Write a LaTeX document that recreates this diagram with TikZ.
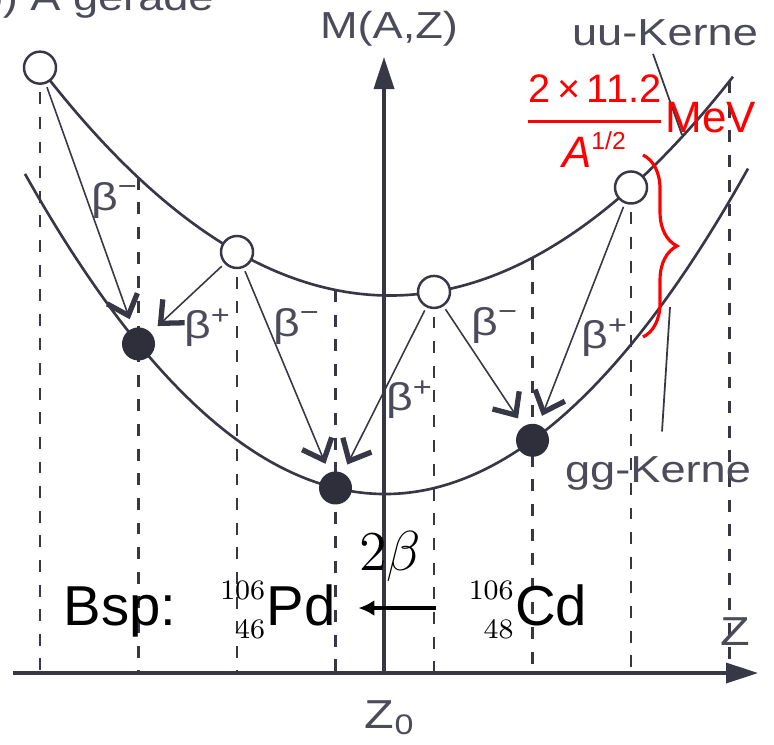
\documentclass[tikz,border=0pt]{standalone}
\usepackage{fix-cm}
\usepackage[no-math]{fontspec}
\setmainfont{Liberation Sans}
\newfontfamily\scanfont[FakeStretch=1.2]{Liberation Sans}
\usepackage{mathtools}
\usetikzlibrary{arrows.meta,calc,decorations.pathreplacing}
\definecolor{ink}{RGB}{55,55,70}
\definecolor{inkgray}{RGB}{75,75,90}
\definecolor{markred}{RGB}{255,0,0}
\newcommand{\nuclide}[3]{$\prescript{\scriptscriptstyle #1}{\scriptscriptstyle #2}{\vphantom{\text{#3}}}$#3}

\begin{document}
\begin{tikzpicture}[x=0.01cm, y=-0.01cm,
  declare function={uuy(\t)=295.5-18.6*((\t-390)/100)^2; ggy(\t)=494-24.7*((\t-385)/100)^2;},
  curve/.style={ink, line width=0.75pt},
  zline/.style={ink, line width=0.7pt, dash pattern=on 3.4pt off 3.6pt},
  axis/.style={ink, line width=1pt, -{Triangle[length=3.2mm,width=2mm]}},
  uunuc/.style={circle, draw=ink, line width=0.7pt, fill=white, minimum size=3.2mm, inner sep=0pt},
  ggnuc/.style={circle, fill=ink!85!black, minimum size=3.3mm, inner sep=0pt},
  decay/.style={ink, line width=0.45pt, shorten <=1pt, shorten >=0.9mm, -{Straight Barb[length=1.8mm,width=3.2mm,line width=1.5pt]}},
  lbl/.style={text=inkgray, inner sep=0pt, font=\scanfont\fontsize{10.7}{13}\selectfont},
  beta/.style={lbl, font=\scanfont\fontsize{11}{13}\selectfont},
  leader/.style={ink, line width=0.5pt},
  bsp/.style={inner sep=0pt, anchor=base, font=\fontsize{16}{19}\selectfont},
  pairarrow/.style={line width=1.1pt, -{Latex[length=1.6mm,width=1.6mm]}}
]
  \useasboundingbox (0,0) rectangle (774,744);

  % dashed Z lines and the two mass parabolas
  \foreach \i in {0,...,7} {
    \pgfmathsetmacro\zx{40+98.5*\i}
    \draw[zline] (\zx,{uuy(\zx)}) -- (\zx,673);
  }
  \draw[curve] plot[domain=40:733, samples=60, smooth] (\x,{uuy(\x)});
  \draw[curve] plot[domain=25:748, samples=60, smooth] (\x,{ggy(\x)});

  % axes
  \coordinate (origin) at (384,673);
  \coordinate (zstart) at (13,673);
  \coordinate (zend) at (758,673);
  \coordinate (mtop) at (384,57);
  \draw[axis] (zstart) -- (zend);
  \draw[axis] (origin) -- (mtop);

  \node[lbl, anchor=base west] (title) at (-23,10) {b) A gerade};
  \node[lbl] (mlabel) at (389,29) {M(A,Z)};
  \node[lbl, font=\scanfont\fontsize{11.5}{13}\selectfont] (zlabel) at (735,632) {Z};
  \node[lbl, font=\scanfont\fontsize{11.5}{13}\selectfont] (zzero) at (390,718) {Z\textsubscript{0}};

  % uu nuclei (open) and gg nuclei (filled)
  \foreach \i in {0,2,4,6} {
    \pgfmathsetmacro\zx{40+98.5*\i}
    \node[uunuc] (u\i) at (\zx,{uuy(\zx)}) {};
  }
  \foreach \i in {1,3,5} {
    \pgfmathsetmacro\zx{40+98.5*\i}
    \node[ggnuc] (g\i) at (\zx,{ggy(\zx)}) {};
  }

  % beta decays
  \draw[decay] (u0) -- (g1);
  \draw[decay] (u2) -- (g1);
  \draw[decay] (u2) -- (g3);
  \draw[decay] (u4) -- (g3);
  \draw[decay] (u4) -- (g5);
  \draw[decay] (u6) -- (g5);
  \node[beta] (bm1) at (115,200) {β\textsuperscript{−}};
  \node[beta] (bp1) at (208,328) {β\textsuperscript{+}};
  \node[beta] (bm2) at (297,326) {β\textsuperscript{−}};
  \node[beta] (bp2) at (410,400) {β\textsuperscript{+}};
  \node[beta] (bm3) at (495,325) {β\textsuperscript{−}};
  \node[beta] (bp3) at (605,338) {β\textsuperscript{+}};

  % curve labels
  \node[lbl] (uulabel) at (665,33) {uu-Kerne};
  \node[lbl] (gglabel) at (658,473) {gg-Kerne};
  \coordinate (uutouch) at (682,135);
  \coordinate (ggtouch) at (670,307);
  \draw[leader] ($(uulabel.south)+(-12,7)$) -- (uutouch);
  \draw[leader] ($(gglabel.north)+(4,-24)$) -- (ggtouch);

  % pairing gap
  \coordinate (gaptop) at (643,155);
  \coordinate (gapbot) at (643,337);
  \draw[markred, line width=0.9pt, decorate, decoration={brace, amplitude=3.4mm}] (gaptop) -- (gapbot);
  \node[text=markred, inner sep=0pt, font=\fontsize{12.5}{14}\selectfont] (gapval) at (640,121)
    {$\genfrac{}{}{0.8pt}{0}{\text{\fontsize{11.3}{12}\selectfont 2\,×\,11.2}}{\text{\textit{A}}^{\text{\fontsize{7}{8}\selectfont 1/2}}}$MeV};

  % example
  \node[bsp] (bsp) at (120,625) {Bsp:};
  \node[bsp] (pd) at (278,625) {\nuclide{106}{46}{Pd}};
  \node[bsp] (cd) at (528,625) {\nuclide{106}{48}{Cd}};
  \draw[pairarrow] ([xshift=-0.32cm,yshift=0.17cm]cd.base west) -- node[above=0.25cm, xshift=-0.07cm, inner sep=0pt, font=\fontsize{16}{19}\selectfont] (twobeta) {$2\beta$} ([xshift=0.22cm,yshift=0.17cm]pd.base east);

\end{tikzpicture}
\end{document}
